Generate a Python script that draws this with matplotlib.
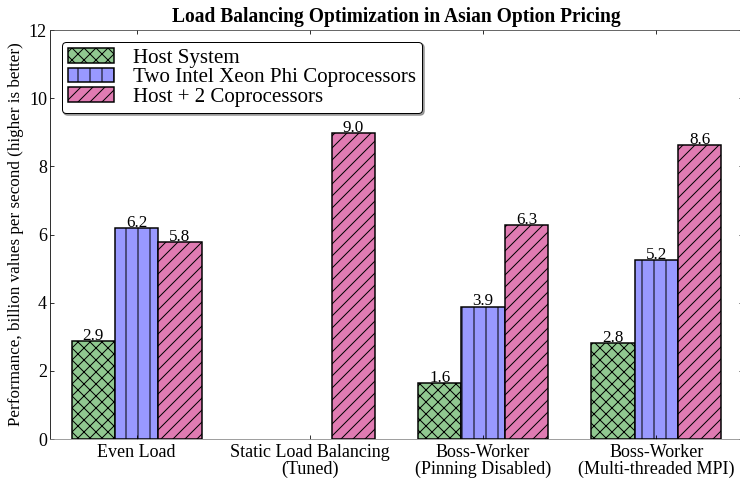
import numpy as np
from matplotlib import pyplot as plt

plt.rcParams['font.family'] = ['Liberation Serif', 'DejaVu Serif']
plt.rcParams['hatch.linewidth'] = 1.0

categories = ['Even Load', 'Static Load Balancing\n(Tuned)',
              'Boss-Worker\n(Pinning Disabled)', 'Boss-Worker\n(Multi-threaded MPI)']
series_names = ['Host System', 'Two Intel Xeon Phi Coprocessors', 'Host + 2 Coprocessors']
host = [2.88, 0.0, 1.64, 2.82]
phi = [6.19, 0.0, 3.88, 5.24]
both = [5.78, 8.98, 6.28, 8.62]

colors = ['#90c890', '#9999ff', '#e07bb2']
hatches = ['xx', '|', '//']

fig = plt.figure(figsize=(740/72, 479/72), dpi=72)
ax = fig.add_axes([50/740, 1 - 439/479, 693/740, 409/479])

x = np.arange(len(categories))
w = 0.25
for i, (vals, name) in enumerate(zip([host, phi, both], series_names)):
    lw = [1.5 if v > 0 else 0 for v in vals]
    ax.bar(x + (i - 1) * w, vals, w, color=colors[i], hatch=hatches[i],
           edgecolor='black', linewidth=lw, label=name)
    for xi, v in zip(x + (i - 1) * w, vals):
        if v > 0:
            ax.text(xi, v - 0.08, '%.1f' % v, ha='center', va='bottom', fontsize=17)

ax.set_xlim(-0.5, 3.5)
ax.set_ylim(0, 12)
ax.set_xticks(x)
ax.set_xticklabels(categories, fontsize=18, linespacing=1.0)
ax.set_yticks(range(0, 13, 2))
ax.tick_params(axis='y', labelsize=18, direction='in', right=True, length=4, pad=3)
ax.tick_params(axis='x', direction='in', top=True, length=4, pad=5)
ax.spines['bottom'].set_color('#888888')
ax.spines['top'].set_color('#444444')
ax.set_ylabel('Performance, billion values per second (higher is better)', fontsize=17,
              labelpad=5)
ax.set_title('Load Balancing Optimization in Asian Option Pricing', fontsize=19.5,
             fontweight='bold', pad=8)

leg = ax.legend(loc='upper left', fontsize=21, fancybox=True, shadow=True,
                handlelength=2.2, handletextpad=0.9, labelspacing=0.0,
                borderaxespad=0.55, borderpad=0.3, framealpha=1)
leg.get_frame().set_edgecolor('black')

plt.savefig('out.png', dpi=72)
